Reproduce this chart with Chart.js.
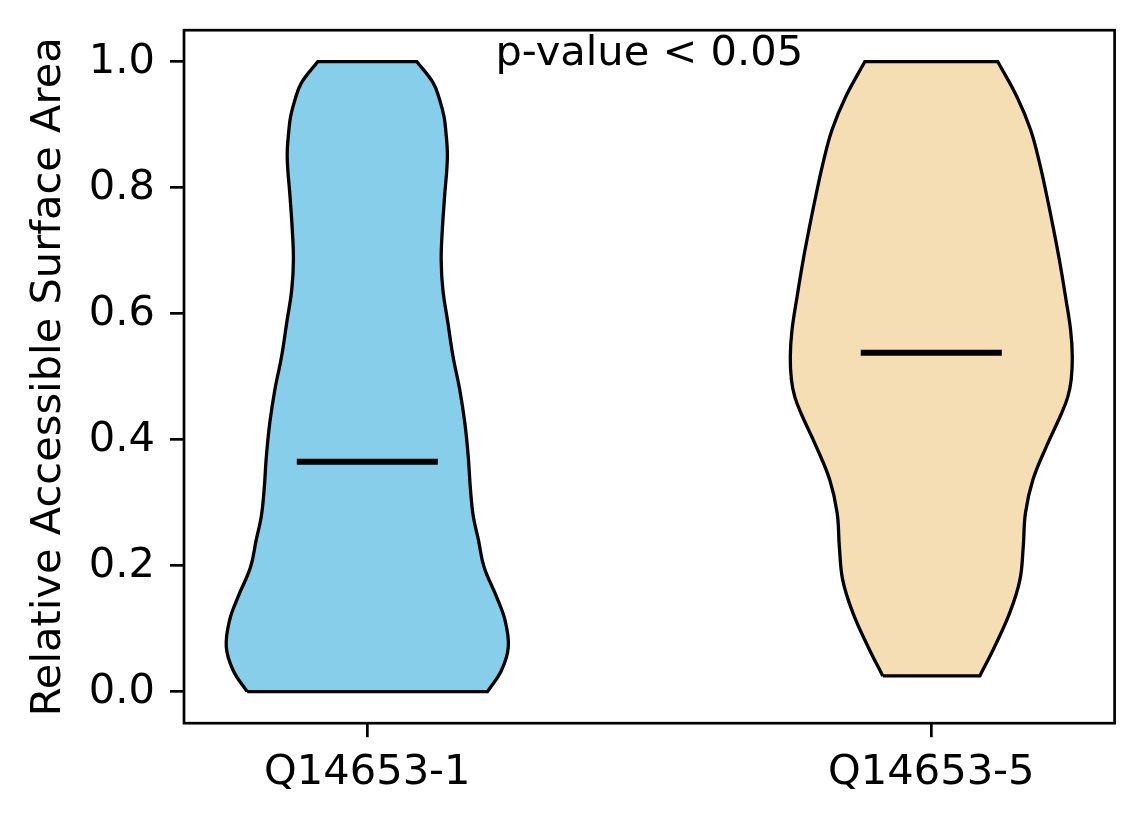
<!DOCTYPE html>
<html><head><meta charset="utf-8">
<script src="https://cdn.jsdelivr.net/npm/chart.js@4.4.1/dist/chart.umd.min.js"></script>
<style>html,body{margin:0;padding:0;background:#fff}#wrap{width:1144px;height:824px}</style>
</head><body>
<div id="wrap"><canvas id="c" width="1144" height="824"></canvas></div>
<script>
// ---- data ----
const categories = ['Q14653-1', 'Q14653-5'];
const positions = [1, 2];
// violin 1 (Q14653-1): y levels and half-widths of the density outline
const violin1Y = [0.000, 0.034, 0.071, 0.114, 0.151, 0.198, 0.241, 0.278, 0.320, 0.373, 0.426, 0.479, 0.532, 0.585, 0.638, 0.685, 0.733, 0.786, 0.849, 0.892, 0.913, 0.939, 0.966, 1.000];
const violin1W = [0.213, 0.238, 0.250, 0.244, 0.229, 0.207, 0.197, 0.188, 0.183, 0.179, 0.173, 0.164, 0.152, 0.143, 0.134, 0.131, 0.133, 0.137, 0.142, 0.139, 0.136, 0.1285, 0.117, 0.088];
// violin 2 (Q14653-5)
const violin2Y = [0.025, 0.071, 0.125, 0.177, 0.230, 0.284, 0.336, 0.389, 0.442, 0.468, 0.495, 0.532, 0.574, 0.627, 0.681, 0.733, 0.786, 0.839, 0.892, 0.944, 1.000];
const violin2W = [0.086, 0.112, 0.139, 0.157, 0.163, 0.167, 0.180, 0.204, 0.231, 0.242, 0.248, 0.250, 0.247, 0.238, 0.228, 0.217, 0.205, 0.192, 0.176, 0.152, 0.118];
const medians = [0.365, 0.538];
const yTicks = [0.0, 0.2, 0.4, 0.6, 0.8, 1.0];
const xTicks = [1, 2];
const annotationText = 'p-value < 0.05';
const yTitle = 'Relative Accessible Surface Area';

// ---- styles ----
const fillColors = ['#87CEEB', '#F5DEB3'];
const FONT = '"DejaVu Sans", "Liberation Sans", sans-serif';
const FS = 41.6;
const MEDIAN_HALF = 0.125;

function outline(pos, ys, ws) {
  const n = ys.length;
  const pts = [];
  for (let i = 0; i < n; i++) pts.push({x: pos - ws[i], y: ys[i]});
  pts.push({x: pos - ws[n - 1], y: ys[n - 1]});
  pts.push({x: pos + ws[n - 1], y: ys[n - 1]});
  for (let i = n - 1; i >= 0; i--) pts.push({x: pos + ws[i], y: ys[i]});
  pts.push({x: pos + ws[0], y: ys[0]});
  pts.push({x: pos - ws[0], y: ys[0]});
  return pts;
}

const violins = [[violin1Y, violin1W], [violin2Y, violin2W]];
const datasets = [];
medians.forEach((m, i) => {
  datasets.push({
    data: [{x: positions[i] - MEDIAN_HALF, y: m}, {x: positions[i] + MEDIAN_HALF, y: m}],
    borderColor: '#000', borderWidth: 6, fill: false, pointRadius: 0, borderCapStyle: 'butt', order: 0
  });
});
violins.forEach(([ys, ws], i) => {
  datasets.push({
    data: outline(positions[i], ys, ws),
    borderColor: '#000', borderWidth: 3.3, backgroundColor: fillColors[i],
    fill: 'shape', tension: 0.4, pointRadius: 0, borderJoinStyle: 'miter', order: 1
  });
});

const framePlugin = {
  id: 'frame',
  afterDatasetsDraw(chart) {
    const {ctx, chartArea: a} = chart;
    ctx.save();
    ctx.strokeStyle = '#000';
    ctx.lineWidth = 2.7;
    ctx.strokeRect(a.left, a.top, a.right - a.left, a.bottom - a.top);
    ctx.fillStyle = '#000';
    ctx.font = FS + 'px ' + FONT;
    ctx.textAlign = 'center';
    ctx.textBaseline = 'alphabetic';
    ctx.fillText(annotationText, (a.left + a.right) / 2, a.top + 0.05 * (a.bottom - a.top));
    ctx.restore();
  }
};

Chart.defaults.font.family = FONT;
Chart.defaults.font.size = FS;
Chart.defaults.color = '#000';

const noPad = s => { s.paddingTop = 0; s.paddingBottom = 0; s.paddingLeft = 0; s.paddingRight = 0; };

new Chart(document.getElementById('c'), {
  type: 'line',
  data: {datasets},
  options: {
    responsive: false, devicePixelRatio: 1, animation: false,
    layout: {padding: {left: 0, right: 29.4, top: 30.2, bottom: 0}},
    plugins: {legend: {display: false}, tooltip: {enabled: false}},
    scales: {
      x: {
        type: 'linear', min: 0.675, max: 2.325,
        afterBuildTicks: s => { s.ticks = xTicks.map(v => ({value: v})); },
        afterFit: s => { s.height = 100.8; noPad(s); },
        ticks: {callback: (v, i) => categories[i], padding: 11, maxRotation: 0, font: {size: FS}},
        grid: {drawOnChartArea: false, drawTicks: true, tickLength: 14, tickWidth: 2.7, tickColor: '#000', color: '#000', lineWidth: 2.7},
        border: {display: false}
      },
      y: {
        type: 'linear', min: -0.05, max: 1.05,
        afterBuildTicks: s => { s.ticks = yTicks.map(v => ({value: v})); },
        afterFit: s => { s.width = 184; noPad(s); },
        ticks: {callback: v => v.toFixed(1), padding: 15, font: {size: FS}},
        grid: {drawOnChartArea: false, drawTicks: true, tickLength: 14, tickWidth: 2.7, tickColor: '#000', color: '#000', lineWidth: 2.7},
        border: {display: false},
        title: {display: true, text: yTitle, font: {size: FS}, padding: {top: 24, bottom: 0}}
      }
    }
  },
  plugins: [framePlugin]
});
</script>
</body></html>
